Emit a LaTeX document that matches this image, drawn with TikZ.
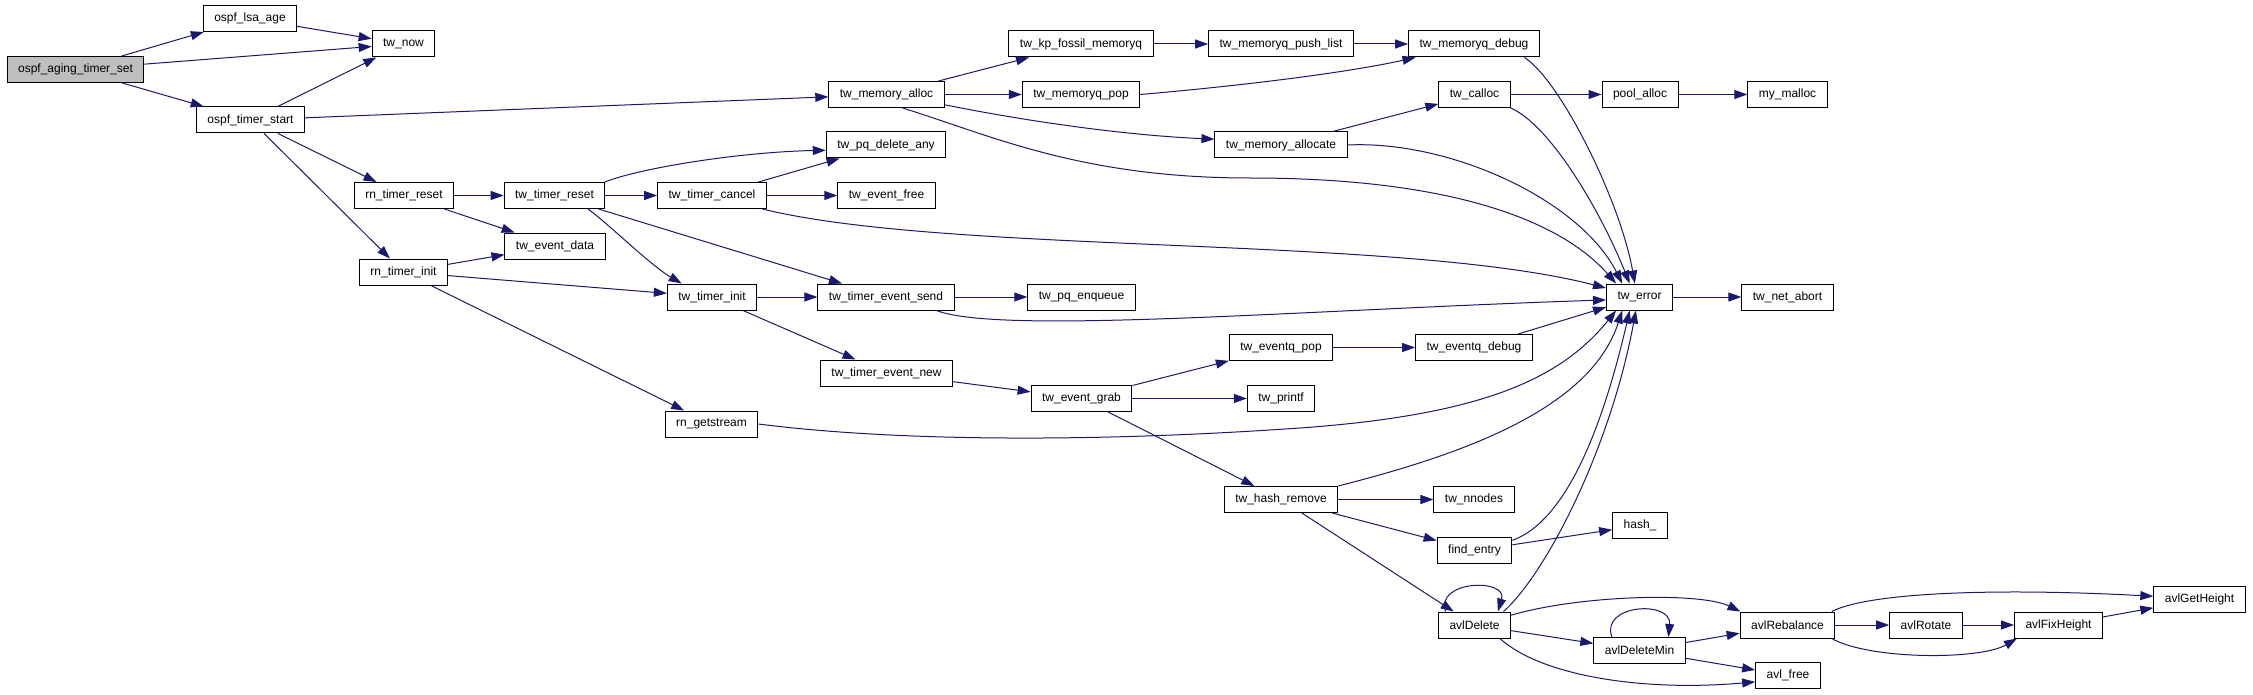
\documentclass[tikz,border=0pt]{standalone}
\usepackage{fontspec}
\setmainfont{Liberation Sans}
\usepackage{tikz}
\usetikzlibrary{arrows.meta}
\definecolor{edgeblue}{RGB}{25,25,112}
\definecolor{rootgray}{RGB}{191,191,191}

\begin{document}
\begin{tikzpicture}[x=1pt, y=-1pt,
    func/.style={rectangle, draw=black, fill=white, line width=1pt, minimum height=26pt, inner xsep=11pt, inner ysep=0pt, font=\fontsize{12}{14}\selectfont},
    rootfunc/.style={func, fill=rootgray},
    call/.style={-{Triangle[length=13pt, width=9pt]}, draw=edgeblue, line width=1pt}
]
    \fill[white] (0,0) rectangle (2253,695);
    \useasboundingbox (0,0) rectangle (2253,695);

    % Caller and first level
    \node[rootfunc] (agingset) at (75.5,69.5) {ospf\_aging\_timer\_set};
    \node[func] (lsaage) at (250,18.5) {ospf\_lsa\_age};
    \node[func] (timerstart) at (250.5,120) {ospf\_timer\_start};

    % rn_ layer
    \node[func] (twnow) at (403.5,44) {tw\_now};
    \node[func] (rnreset) at (404,195.5) {rn\_timer\_reset};
    \node[func] (rninit) at (403.5,272) {rn\_timer\_init};

    % Timer layer
    \node[func] (twreset) at (554.5,195.5) {tw\_timer\_reset};
    \node[func] (evdata) at (555,246) {tw\_event\_data};
    \node[func] (twcancel) at (712,195.5) {tw\_timer\_cancel};
    \node[func] (twinit) at (712,297) {tw\_timer\_init};
    \node[func] (getstream) at (711.5,424) {rn\_getstream};

    % Memory and event layer
    \node[func] (memalloc) at (886.5,94.5) {tw\_memory\_alloc};
    \node[func] (pqdelete) at (886,145) {tw\_pq\_delete\_any};
    \node[func] (evfree) at (886.5,195.5) {tw\_event\_free};
    \node[func] (evsend) at (886,297) {tw\_timer\_event\_send};
    \node[func] (evnew) at (886.5,373) {tw\_timer\_event\_new};

    \node[func] (fossil) at (1081,44) {tw\_kp\_fossil\_memoryq};
    \node[func] (mempop) at (1081,94.5) {tw\_memoryq\_pop};
    \node[func] (pqenq) at (1081.5,297) {tw\_pq\_enqueue};
    \node[func] (evgrab) at (1081.5,398.5) {tw\_event\_grab};

    \node[func] (pushlist) at (1281,44) {tw\_memoryq\_push\_list};
    \node[func] (allocate) at (1281,145) {tw\_memory\_allocate};
    \node[func] (eqpop) at (1281,347.5) {tw\_eventq\_pop};
    \node[func] (twprintf) at (1281,398.5) {tw\_printf};
    \node[func] (hashremove) at (1281,499.5) {tw\_hash\_remove};

    \node[func] (memdebug) at (1474,44) {tw\_memoryq\_debug};
    \node[func] (twcalloc) at (1474.5,94.5) {tw\_calloc};
    \node[func] (eqdebug) at (1474,347.5) {tw\_eventq\_debug};
    \node[func] (nnodes) at (1474,499.5) {tw\_nnodes};
    \node[func] (findentry) at (1474.5,550.5) {find\_entry};
    \node[func] (avldelete) at (1474.5,625) {avlDelete};

    % Leaves
    \node[func] (poolalloc) at (1640,94.5) {pool\_alloc};
    \node[func] (twerror) at (1639.5,297) {tw\_error};
    \node[func] (hashfn) at (1640,525.5) {hash\_};
    \node[func] (delmin) at (1639.5,650.5) {avlDeleteMin};

    \node[func] (mymalloc) at (1787.5,94.5) {my\_malloc};
    \node[func] (netabort) at (1787.5,297) {tw\_net\_abort};
    \node[func] (rebalance) at (1787.5,625) {avlRebalance};
    \node[func] (avlfree) at (1788,675.5) {avl\_free};

    \node[func] (rotate) at (1926,625) {avlRotate};
    \node[func] (fixheight) at (2058.5,625) {avlFixHeight};
    \node[func] (getheight) at (2199.5,599.5) {avlGetHeight};

    % Calls
    \draw[call] (agingset) -- (lsaage);
    \draw[call] (agingset) -- (twnow);
    \draw[call] (agingset) -- (timerstart);
    \draw[call] (lsaage) -- (twnow);
    \draw[call] (timerstart) -- (twnow);
    \draw[call] (timerstart) -- (memalloc);
    \draw[call] (timerstart) -- (rnreset);
    \draw[call] (timerstart) -- (rninit);

    \draw[call] (rnreset) -- (twreset);
    \draw[call] (rnreset) -- (evdata);
    \draw[call] (rninit) -- (evdata);
    \draw[call] (rninit) -- (twinit);
    \draw[call] (rninit) -- (getstream);

    \draw[call] (twreset.15) .. controls (640,168) and (740,152) .. (pqdelete.185);
    \draw[call] (twreset) -- (twcancel);
    \draw[call] (twreset.338) .. controls (610,225) and (650,265) .. (twinit.156);
    \draw[call] (twreset) -- (evsend);
    \draw[call] (twcancel) -- (pqdelete);
    \draw[call] (twcancel) -- (evfree);
    \draw[call] (twcancel.345) .. controls (950,255) and (1400,235) .. (twerror.165);
    \draw[call] (twinit) -- (evsend);
    \draw[call] (twinit) -- (evnew);
    \draw[call] (getstream.east) .. controls (900,442) and (1100,442) .. (1300,428) .. controls (1480,415) and (1560,380) .. (twerror.210);

    \draw[call] (memalloc) -- (fossil);
    \draw[call] (memalloc) -- (mempop);
    \draw[call] (memalloc.350) .. controls (1020,120) and (1120,135) .. (allocate.175);
    \draw[call] (memalloc.320) .. controls (990,135) and (1080,178) .. (1250,178) .. controls (1450,178) and (1560,220) .. (twerror.150);
    \draw[call] (evsend) -- (pqenq);
    \draw[call] (evsend.345) .. controls (1000,335) and (1300,310) .. (twerror.185);
    \draw[call] (evnew) -- (evgrab);

    \draw[call] (fossil) -- (pushlist);
    \draw[call] (mempop.east) .. controls (1250,85) and (1350,72) .. (memdebug.193);
    \draw[call] (evgrab) -- (eqpop);
    \draw[call] (evgrab) -- (twprintf);
    \draw[call] (evgrab) -- (hashremove);

    \draw[call] (pushlist) -- (memdebug);
    \draw[call] (allocate) -- (twcalloc);
    \draw[call] (allocate.east) .. controls (1450,140) and (1580,200) .. (twerror.142);
    \draw[call] (eqpop) -- (eqdebug);
    \draw[call] (hashremove.north east) .. controls (1460,455) and (1590,410) .. (twerror.218);
    \draw[call] (hashremove) -- (nnodes);
    \draw[call] (hashremove) -- (findentry);
    \draw[call] (hashremove) -- (avldelete);

    \draw[call] (memdebug.345) .. controls (1560,80) and (1620,200) .. (twerror.109);
    \draw[call] (twcalloc) -- (poolalloc);
    \draw[call] (twcalloc.south east) .. controls (1550,125) and (1600,210) .. (twerror.126);
    \draw[call] (eqdebug) -- (twerror);
    \draw[call] (findentry.15) .. controls (1555,525) and (1595,460) .. (twerror.234);
    \draw[call] (findentry) -- (hashfn);
    \draw[call] (avldelete.155) .. controls (1435,580) and (1508,578) .. (avldelete.30);
    \draw[call] (avldelete.25) .. controls (1545,575) and (1610,450) .. (twerror.255);
    \draw[call] (avldelete.15) .. controls (1580,595) and (1700,592) .. (rebalance.164);
    \draw[call] (avldelete) -- (delmin);
    \draw[call] (avldelete.332) .. controls (1540,675) and (1640,692) .. (avlfree.191);

    \draw[call] (poolalloc) -- (mymalloc);
    \draw[call] (twerror) -- (netabort);
    \draw[call] (delmin.154) .. controls (1600,604) and (1672,600) .. (delmin.25);
    \draw[call] (delmin) -- (rebalance);
    \draw[call] (delmin) -- (avlfree);

    \draw[call] (rebalance.17) .. controls (1870,592) and (2000,588) .. (getheight.176);
    \draw[call] (rebalance) -- (rotate);
    \draw[call] (rebalance.343) .. controls (1870,660) and (1980,660) .. (fixheight.198);
    \draw[call] (rotate) -- (fixheight);
    \draw[call] (fixheight) -- (getheight);

\end{tikzpicture}
\end{document}
